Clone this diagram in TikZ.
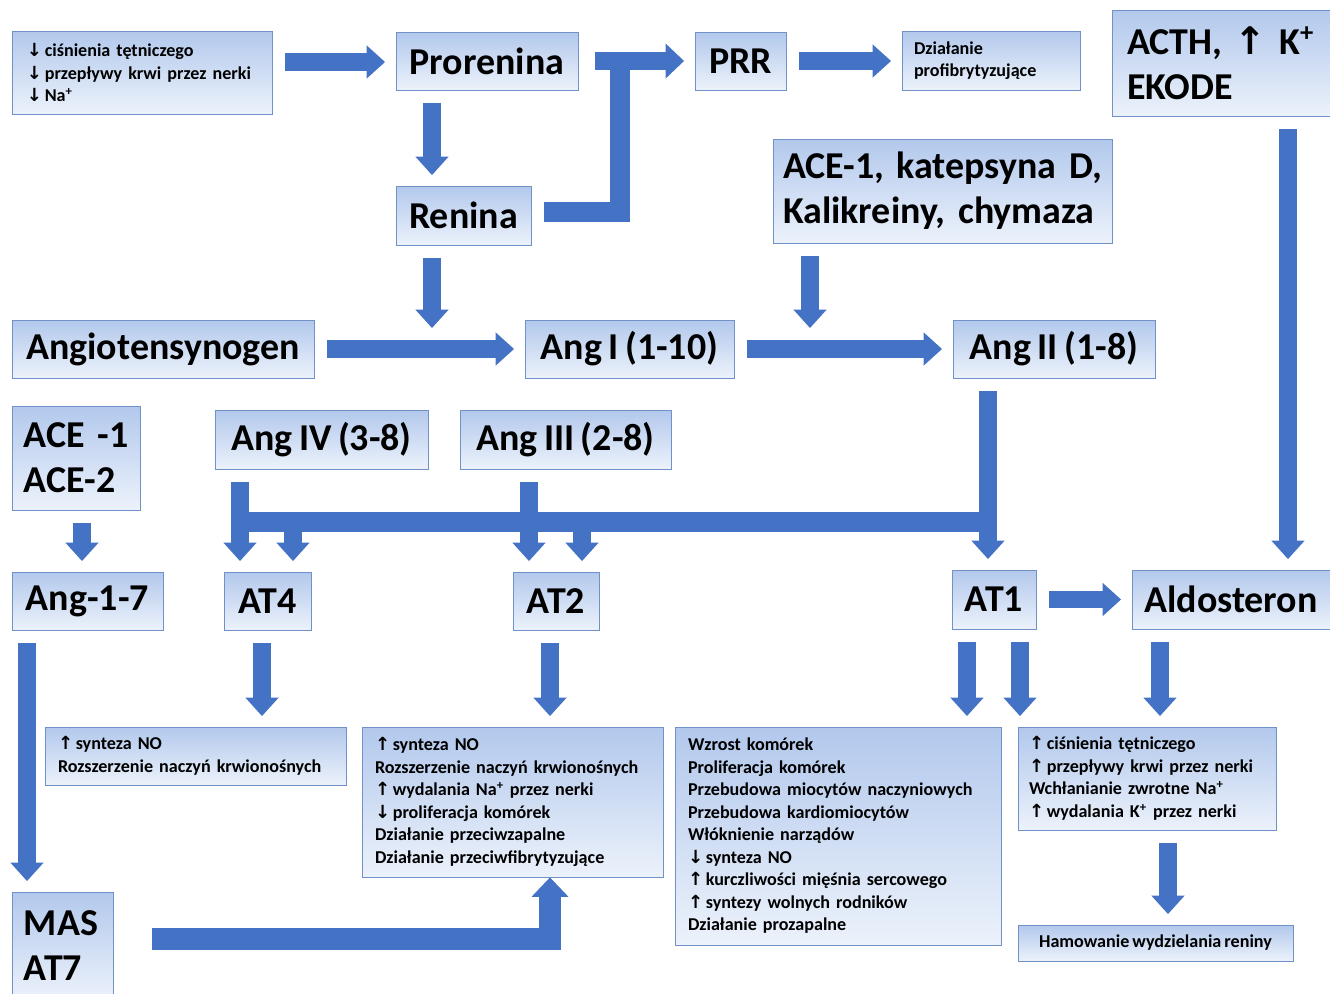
\documentclass[tikz,border=0pt]{standalone}
\usepackage{fontspec}
\setmainfont{Carlito}[WordSpace=0.75]
\newfontfamily\symf{DejaVu Sans}
\usetikzlibrary{arrows.meta,positioning}

\definecolor{arrowblue}{RGB}{68,114,196}
\definecolor{boxtop}{RGB}{178,200,236}
\definecolor{boxbot}{RGB}{236,242,251}
\definecolor{boxline}{RGB}{112,146,200}

\newcommand\bigf{\fontsize{21.6}{25.6}\selectfont\bfseries}
\newcommand\smallf{\fontsize{10.3}{12.8}\selectfont\bfseries}
\newcommand\arrdn{{\symf ↓}\hspace{1.5pt}}
\newcommand\arrup{{\symf ↑}\hspace{1.5pt}}

\tikzset{
  box/.style={draw=boxline, line width=0.5pt, top color=boxtop, bottom color=boxbot,
    font=\bigf, inner sep=0pt, align=center},
  txt/.style={box, font=\smallf},
  wh/.style 2 args={minimum width=#1*0.02cm, minimum height=#2*0.02cm},
  lft/.style 2 args={text width=#1*0.02cm, inner xsep=#2*0.02cm, align=left},
  blk/.style={draw=arrowblue, line width=9.8pt, line join=miter,
    -{Triangle[width=19pt,length=10.5pt,line width=0pt]}, shorten <=7pt, shorten >=6pt},
  bar/.style={draw=arrowblue, line width=11.5pt, line join=miter}
}

\begin{document}
\begin{tikzpicture}[x=0.02cm, y=-0.02cm]
  \useasboundingbox (0,0) rectangle (1330,994);

  \node[txt, wh={260}{83}, lft={230}{15}] (cond) at (142,72.5)
    {\arrdn ciśnienia tętniczego\\\arrdn przepływy krwi przez nerki\\\arrdn Na\textsuperscript{+}};
  \node[box, wh={182}{58}] (proren) at (487,61) {Prorenina};
  \node[box, wh={91}{58}] (prr) at (740.5,61) {PRR};
  \node[txt, wh={178}{59}, lft={154}{12}] (fibro) at (991,60.5) {Działanie\\profibrytyzujące};
  \node[box, wh={218}{106}, lft={188}{15}] (acth) at (1221,63) {ACTH, {\symf ↑} K\textsuperscript{+}\\EKODE};
  \node[box, wh={135}{59}] (renina) at (463.5,215.5) {Renina};
  \node[box, wh={339}{104}, lft={319}{10}] (enzym) at (942.5,191) {ACE-1, katepsyna D,\\Kalikreiny, chymaza};
  \node[box, wh={302}{58}] (angio) at (163,349) {Angiotensynogen};
  \node[box, wh={209}{58}] (ang1) at (629.5,349) {Ang I (1-10)};
  \node[box, wh={202}{58}] (ang2) at (1054,349) {Ang II (1-8)};
  \node[box, wh={128}{104}, lft={104}{12}] (ace) at (76,458) {\mbox{ACE -1}\\ACE-2};
  \node[box, wh={213}{59}] (ang4) at (321.5,439.5) {Ang IV (3-8)};
  \node[box, wh={211}{59}] (ang3) at (565.5,439.5) {Ang III (2-8)};
  \node[box, wh={151}{58}] (ang17) at (87.5,601) {Ang-1-7};
  \node[box, wh={87}{58}] (at4) at (267.5,601) {AT4};
  \node[box, wh={86}{58}] (at2) at (556,601) {AT2};
  \node[box, wh={84}{59}] (at1) at (994,599.5) {AT1};
  \node[box, wh={198}{59}] (aldo) at (1231,599.5) {Aldosteron};
  \node[txt, wh={301}{58}, lft={275}{13}] (ef4) at (195.5,756)
    {\arrup synteza NO\\Rozszerzenie naczyń krwionośnych};
  \node[txt, wh={301}{150}, lft={275}{13}] (ef2) at (512.5,802)
    {\arrup synteza NO\\Rozszerzenie naczyń krwionośnych\\\arrup wydalania Na\textsuperscript{+} przez nerki\\
     \arrdn proliferacja komórek\\Działanie przeciwzapalne\\Działanie przeciwfibrytyzujące};
  \node[txt, wh={326}{218}, lft={300}{13}] (ef1) at (838,836)
    {Wzrost komórek\\Proliferacja komórek\\Przebudowa miocytów naczyniowych\\Przebudowa kardiomiocytów\\
     Włóknienie narządów\\\arrdn synteza NO\\\arrup kurczliwości mięśnia sercowego\\
     \arrup syntezy wolnych rodników\\Działanie prozapalne};
  \node[txt, wh={258}{103}, lft={236}{11}] (efal) at (1147,778.5)
    {\arrup ciśnienia tętniczego\\\arrup przepływy krwi przez nerki\\Wchłanianie zwrotne Na\textsuperscript{+}\\
     \arrup wydalania K\textsuperscript{+} przez nerki};
  \node[txt, wh={275}{36}] (hamow) at (1155.5,943) {Hamowanie wydzielania reniny};
  \node[box, wh={101}{108}, lft={77}{12}] (mas) at (62.5,946) {MAS\\AT7};

  \coordinate (knee) at (620,61);
  \coordinate (knee0) at (595,61);
  \coordinate (cut1) at (432,328);
  \coordinate (cut2) at (810,328);
  \coordinate (bl) at (232,522);
  \coordinate (br) at (997,522);

  \draw[blk] (cond.east |- 0,62) -- (proren.west |- 0,62);
  \draw[blk] (proren.south -| 432,0) -- (renina.north -| 432,0);
  \draw[bar, line width=11pt, shorten <=7pt] (renina.east |- 0,212) -| (knee);
  \draw[blk, line width=10.5pt, shorten <=0pt, -{Triangle[width=20pt,length=10.5pt,line width=0pt]}] (knee0) -- (prr.west |- knee0);
  \draw[blk] (prr.east) -- (fibro.west |- prr.east);
  \draw[blk] (acth.south -| 1288,0) -- (aldo.north -| 1288,0);
  \draw[blk, shorten >=0pt] (renina.south -| cut1) -- (cut1);
  \draw[blk, shorten >=0pt] (enzym.south -| cut2) -- (cut2);
  \draw[blk] (angio.east) -- (ang1.west);
  \draw[blk] (ang1.east) -- (ang2.west);
  \draw[blk] (ace.south -| 82,0) -- (ang17.north -| 82,0);

  \draw[bar] (bl) -- (br);
  \draw[blk] (ang2.south -| 988,0) -- (at1.north -| 988,0);
  \draw[blk] (ang4.south -| 240,0) -- (at4.north -| 240,0);
  \draw[blk, shorten <=0pt] (bl -| 293,0) -- (at4.north -| 293,0);
  \draw[blk] (ang3.south -| 529,0) -- (at2.north -| 529,0);
  \draw[blk, shorten <=0pt] (bl -| 582,0) -- (at2.north -| 582,0);
  \draw[blk] (at1.east) -- (aldo.west |- at1.east);

  \draw[blk] (at4.south -| 262,0) -- (ef4.north -| 262,0);
  \draw[blk] (at2.south -| 550,0) -- (ef2.north -| 550,0);
  \draw[blk] (at1.south -| 967,0) -- (ef1.north -| 967,0);
  \draw[blk] (at1.south -| 1020,0) -- (efal.north -| 1020,0);
  \draw[blk] (aldo.south -| 1160,0) -- (efal.north -| 1160,0);
  \draw[blk] (efal.south -| 1168,0) -- (hamow.north -| 1168,0);
  \draw[blk] (ang17.south -| 27,0) -- (mas.north -| 27,0);
  \draw[blk, line width=12pt, shorten <=22pt, shorten >=0pt,
    -{Triangle[width=21pt,length=11pt,line width=0pt]}] (mas.east |- 0,939) -| (ef2.south -| 550,0);
\end{tikzpicture}
\end{document}
